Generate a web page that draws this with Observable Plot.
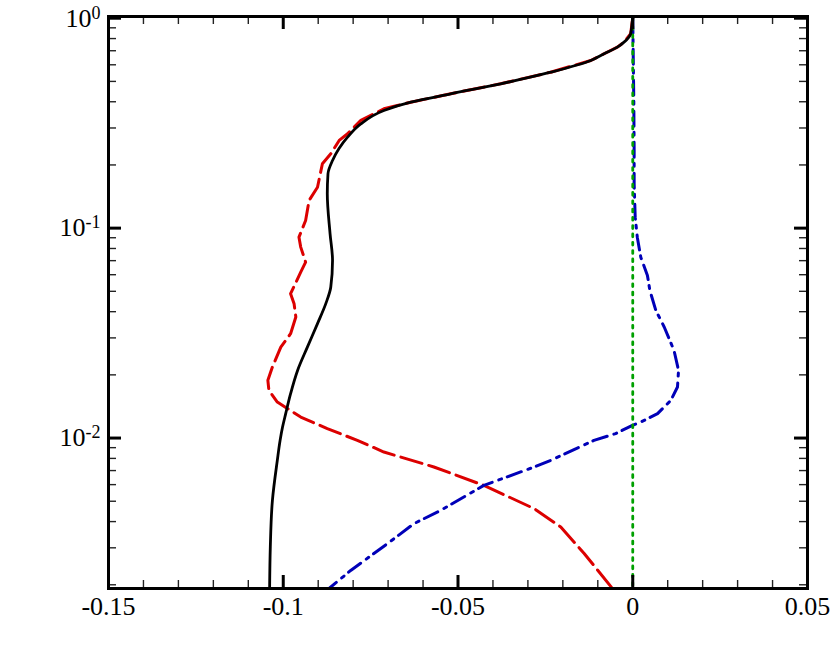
<!DOCTYPE html>
<html>
<head>
<meta charset="utf-8">
<script src="https://cdn.jsdelivr.net/npm/d3@7"></script>
<script src="https://cdn.jsdelivr.net/npm/@observablehq/plot@0.6"></script>
<style>
  html, body { margin: 0; padding: 0; background: #fff; overflow: hidden; }
  #chart { width: 830px; height: 664px; }
</style>
</head>
<body>
<div id="chart"></div>
<script>
// ---- data ----
const solidX = [0, -0.0001, -0.0006, -0.0025, -0.0044, -0.0082, -0.0120, -0.0235, -0.0378, -0.0521, -0.0635, -0.0712, -0.0778, -0.0816, -0.0859, -0.0872, -0.0874, -0.0866, -0.0859, -0.0864, -0.0878, -0.0902, -0.0931, -0.0959, -0.0979, -0.0993, -0.1002, -0.1009, -0.1017, -0.1031, -0.1037, -0.1039];
const solidY = [1, 0.975, 0.843, 0.769, 0.728, 0.677, 0.629, 0.553, 0.487, 0.4365, 0.398, 0.3634, 0.314, 0.2713, 0.210, 0.1816, 0.1458, 0.094, 0.0702, 0.0524, 0.0438, 0.0351, 0.0271, 0.0210, 0.01627, 0.01307, 0.01128, 0.00975, 0.00783, 0.00505, 0.00303, 0.00192];

const dashedX = [0, -0.0001, -0.0006, -0.0025, -0.0044, -0.0082, -0.0120, -0.0235, -0.0378, -0.0521, -0.0635, -0.0712, -0.0778, -0.0816, -0.0840, -0.0864, -0.0888, -0.0902, -0.0926, -0.0936, -0.0955, -0.0950, -0.0936, -0.0950, -0.0979, -0.0969, -0.0964, -0.0979, -0.1007, -0.1031, -0.1044, -0.1041, -0.1017, -0.0950, -0.0874, -0.0788, -0.0712, -0.0569, -0.0426, -0.0282, -0.0206, -0.0139, -0.0058];
const dashedY = [1, 0.975, 0.843, 0.769, 0.728, 0.677, 0.629, 0.553, 0.487, 0.4365, 0.398, 0.3703, 0.326, 0.2815, 0.2617, 0.226, 0.2026, 0.1567, 0.1355, 0.1088, 0.0906, 0.0812, 0.0689, 0.0617, 0.0487, 0.0436, 0.0377, 0.0314, 0.0271, 0.0218, 0.01883, 0.01687, 0.01484, 0.01259, 0.01109, 0.00975, 0.00858, 0.00728, 0.00595, 0.00461, 0.00377, 0.00282, 0.00192];

const dashDotX = [0, 0.0003, 0.0004, 0.0004, 0.0007, 0.0013, 0.0023, 0.0042, 0.0049, 0.0066, 0.0090, 0.0118, 0.0131, 0.0128, 0.0109, 0.0071, 0.0023, -0.0001, -0.0049, -0.0111, -0.0235, -0.0282, -0.0426, -0.0549, -0.0626, -0.0702, -0.0807, -0.0869];
const dashDotY = [1, 0.4056, 0.2344, 0.1627, 0.1128, 0.0906, 0.0727, 0.0595, 0.0505, 0.0406, 0.0338, 0.02616, 0.0210, 0.0175, 0.01512, 0.01307, 0.01192, 0.01149, 0.0105, 0.00975, 0.00783, 0.00728, 0.00595, 0.00453, 0.00391, 0.00314, 0.00234, 0.00192];

const dottedX = [0, 0];
const dottedY = [1, 0.00192];

const xMajor = [-0.15, -0.1, -0.05, 0, 0.05];
const xTickLabels = ["-0.15", "-0.1", "-0.05", "0", "0.05"];
const xMinor = [-0.14, -0.13, -0.12, -0.11, -0.09, -0.08, -0.07, -0.06, -0.04, -0.03, -0.02, -0.01, 0.01, 0.02, 0.03, 0.04];
const yMajor = [0.01, 0.1, 1];
const yTickLabels = ["10^-2", "10^-1", "10^0"];
const yMinor = [0.002, 0.003, 0.004, 0.005, 0.006, 0.007, 0.008, 0.009,
                0.02, 0.03, 0.04, 0.05, 0.06, 0.07, 0.08, 0.09,
                0.2, 0.3, 0.4, 0.5, 0.6, 0.7, 0.8, 0.9];

// ---- build ----
const zip = (xs, ys) => xs.map((x, i) => ({x, y: ys[i]}));
const solid = zip(solidX, solidY);
const dashed = zip(dashedX, dashedY);
const dashDot = zip(dashDotX, dashDotY);
const dotted = zip(dottedX, dottedY);

const W = 830, H = 664;
const mL = 108, mR = 23, mT = 16, mB = 76;
const innerW = W - mL - mR, innerH = H - mT - mB;
const majorLen = 13, minorLen = 8;
const FONT = "'Liberation Serif', 'Times New Roman', serif";

const chart = Plot.plot({
  width: W, height: H,
  marginLeft: mL, marginRight: mR, marginTop: mT, marginBottom: mB,
  style: {fontFamily: FONT, fontSize: "26px", background: "#fff", color: "#000"},
  x: {domain: [-0.15, 0.05], label: null},
  y: {type: "log", domain: [0.00192, 1.019], label: null},
  marks: [
    // curves
    Plot.line(dashed, {x: "x", y: "y", stroke: "#dc0000", strokeWidth: 3, strokeDasharray: "22,7", clip: true}),
    Plot.line(dashDot, {x: "x", y: "y", stroke: "#0000b8", strokeWidth: 3, strokeDasharray: "15,6,3,7", clip: true}),
    Plot.line(dotted, {x: "x", y: "y", stroke: "#00a000", strokeWidth: 2.8, strokeDasharray: "2.8,5.5", clip: true}),
    Plot.line(solid, {x: "x", y: "y", stroke: "#000", strokeWidth: 2.8, curve: "monotone-y", clip: true}),
    // inward ticks: bottom / top
    Plot.ruleX(xMajor, {x: d => d, insetTop: innerH - majorLen, stroke: "#000", strokeWidth: 3}),
    Plot.ruleX(xMajor, {x: d => d, insetBottom: innerH - majorLen, stroke: "#000", strokeWidth: 3}),
    Plot.ruleX(xMinor, {x: d => d, insetTop: innerH - minorLen, stroke: "#222", strokeWidth: 1.4}),
    Plot.ruleX(xMinor, {x: d => d, insetBottom: innerH - minorLen, stroke: "#222", strokeWidth: 1.4}),
    // inward ticks: left / right
    Plot.ruleY(yMajor, {y: d => d, insetRight: innerW - majorLen, stroke: "#000", strokeWidth: 3}),
    Plot.ruleY(yMajor, {y: d => d, insetLeft: innerW - majorLen, stroke: "#000", strokeWidth: 3}),
    Plot.ruleY(yMinor, {y: d => d, insetRight: innerW - minorLen, stroke: "#222", strokeWidth: 1.4}),
    Plot.ruleY(yMinor, {y: d => d, insetLeft: innerW - minorLen, stroke: "#222", strokeWidth: 1.4}),
    // tick labels
    Plot.axisX({ticks: xMajor, tickSize: 0, tickPadding: 8, fontSize: 26, label: null,
      tickFormat: d => xTickLabels[xMajor.indexOf(d)] ?? ""}),
    Plot.axisY({ticks: yMajor, tickSize: 0, tickPadding: 8, fontSize: 26, label: null,
      tickFormat: d => yTickLabels[yMajor.indexOf(d)] ?? ""}),
    Plot.frame({stroke: "#000", strokeWidth: 3})
  ]
});

// superscripts for the power-of-ten labels
chart.querySelectorAll("text").forEach(t => {
  const s = t.textContent;
  if (s.includes("^")) {
    const [base, exp] = s.split("^");
    const host = t.querySelector("tspan") || t;
    host.textContent = base;
    const sup = document.createElementNS("http://www.w3.org/2000/svg", "tspan");
    sup.setAttribute("dy", "-8");
    sup.setAttribute("font-size", "18");
    sup.textContent = exp;
    host.appendChild(sup);
  }
});

document.getElementById("chart").appendChild(chart);
</script>
</body>
</html>
